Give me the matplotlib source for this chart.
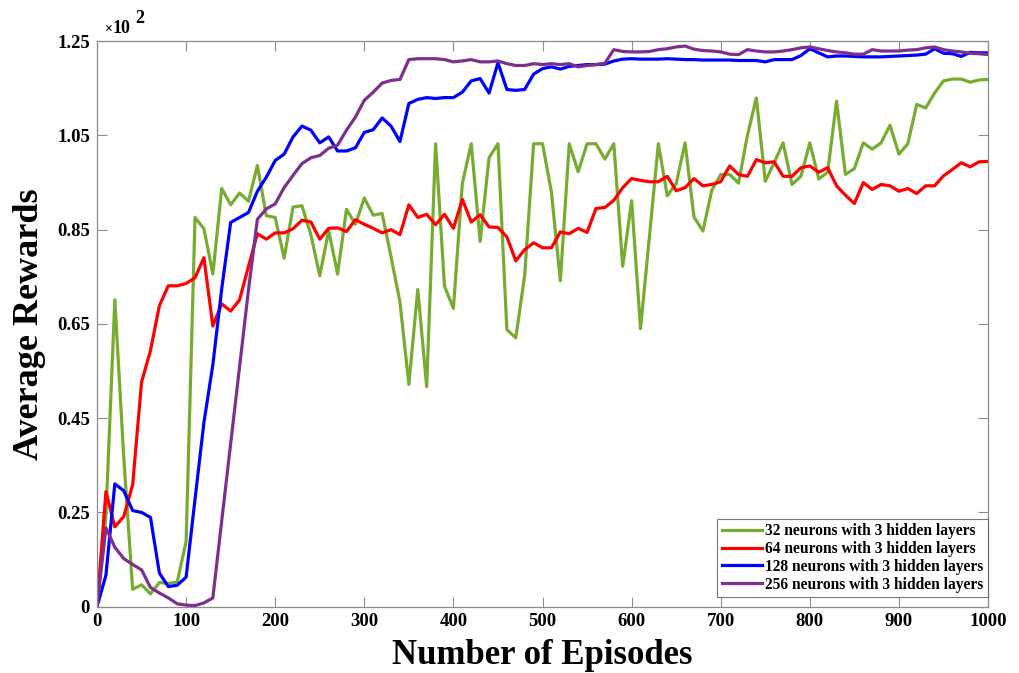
import numpy as np
import matplotlib
matplotlib.use("Agg")
import matplotlib.pyplot as plt

episodes = list(range(0, 1001, 10))

# values in units of 10^2 (axis runs 0 .. 1.25)
reward_32 = [
    0.0, 0.20, 0.678, 0.33, 0.038, 0.048, 0.028, 0.053, 0.051, 0.054,
    0.144, 0.860, 0.835, 0.735, 0.924, 0.888, 0.914, 0.896, 0.975, 0.864,
    0.860, 0.770, 0.883, 0.886, 0.822, 0.731, 0.831, 0.735, 0.878, 0.845,
    0.903, 0.865, 0.869, 0.773, 0.673, 0.491, 0.701, 0.486, 1.023, 0.708,
    0.659, 0.935, 1.023, 0.807, 0.992, 1.023, 0.612, 0.594, 0.732, 1.023,
    1.023, 0.916, 0.720, 1.023, 0.961, 1.023, 1.023, 0.989, 1.023, 0.752,
    0.897, 0.614, 0.818, 1.023, 0.908, 0.935, 1.025, 0.861, 0.830, 0.920,
    0.955, 0.955, 0.936, 1.042, 1.124, 0.940, 0.981, 1.025, 0.933, 0.951,
    1.025, 0.945, 0.960, 1.117, 0.955, 0.968, 1.025, 1.011, 1.025, 1.064,
    1.000, 1.023, 1.110, 1.102, 1.135, 1.162, 1.166, 1.166, 1.159, 1.164,
    1.165,
]

reward_64 = [
    0.0, 0.254, 0.176, 0.199, 0.269, 0.496, 0.566, 0.665, 0.709, 0.709,
    0.714, 0.727, 0.771, 0.620, 0.669, 0.653, 0.678, 0.752, 0.824, 0.812,
    0.826, 0.826, 0.835, 0.854, 0.850, 0.812, 0.836, 0.837, 0.829, 0.855,
    0.845, 0.836, 0.826, 0.833, 0.822, 0.888, 0.860, 0.867, 0.844, 0.867,
    0.836, 0.900, 0.850, 0.866, 0.839, 0.838, 0.817, 0.764, 0.789, 0.804,
    0.793, 0.793, 0.828, 0.824, 0.836, 0.827, 0.880, 0.882, 0.898, 0.926,
    0.946, 0.942, 0.939, 0.939, 0.951, 0.919, 0.926, 0.946, 0.930, 0.933,
    0.939, 0.974, 0.955, 0.951, 0.988, 0.981, 0.983, 0.951, 0.951, 0.970,
    0.974, 0.960, 0.970, 0.930, 0.909, 0.891, 0.937, 0.922, 0.933, 0.930,
    0.918, 0.924, 0.913, 0.930, 0.930, 0.952, 0.966, 0.981, 0.972, 0.983,
    0.984,
]

reward_128 = [
    0.0, 0.069, 0.271, 0.256, 0.212, 0.208, 0.197, 0.074, 0.044, 0.047,
    0.065, 0.237, 0.407, 0.534, 0.703, 0.849, 0.860, 0.871, 0.918, 0.949,
    0.986, 1.000, 1.038, 1.062, 1.053, 1.025, 1.038, 1.007, 1.007, 1.014,
    1.048, 1.054, 1.080, 1.062, 1.028, 1.112, 1.121, 1.125, 1.123, 1.125,
    1.125, 1.137, 1.162, 1.167, 1.135, 1.202, 1.143, 1.141, 1.143, 1.177,
    1.189, 1.193, 1.188, 1.194, 1.196, 1.198, 1.198, 1.199, 1.206, 1.210,
    1.211, 1.210, 1.210, 1.210, 1.211, 1.210, 1.209, 1.209, 1.208, 1.208,
    1.208, 1.208, 1.207, 1.207, 1.207, 1.204, 1.209, 1.209, 1.209, 1.218,
    1.233, 1.224, 1.215, 1.217, 1.217, 1.216, 1.215, 1.215, 1.215, 1.216,
    1.217, 1.218, 1.219, 1.221, 1.233, 1.223, 1.222, 1.216, 1.225, 1.224,
    1.224,
]

reward_256 = [
    0.0, 0.174, 0.131, 0.106, 0.093, 0.081, 0.042, 0.030, 0.019, 0.006,
    0.003, 0.002, 0.008, 0.019, 0.19, 0.36, 0.53, 0.70, 0.856, 0.879,
    0.890, 0.926, 0.953, 0.979, 0.992, 0.997, 1.013, 1.020, 1.053, 1.082,
    1.119, 1.137, 1.157, 1.163, 1.165, 1.209, 1.211, 1.211, 1.211, 1.209,
    1.204, 1.206, 1.209, 1.204, 1.204, 1.206, 1.200, 1.196, 1.196, 1.200,
    1.198, 1.200, 1.198, 1.200, 1.193, 1.196, 1.198, 1.201, 1.231, 1.227,
    1.226, 1.226, 1.227, 1.231, 1.233, 1.237, 1.239, 1.232, 1.229, 1.228,
    1.226, 1.221, 1.220, 1.231, 1.228, 1.226, 1.226, 1.228, 1.231, 1.235,
    1.237, 1.233, 1.229, 1.226, 1.224, 1.221, 1.221, 1.231, 1.228, 1.228,
    1.228, 1.230, 1.231, 1.235, 1.237, 1.231, 1.228, 1.226, 1.223, 1.222,
    1.220,
]

series_labels = [
    "32 neurons with 3 hidden layers",
    "64 neurons with 3 hidden layers",
    "128 neurons with 3 hidden layers",
    "256 neurons with 3 hidden layers",
]
series_colors = ["#77AC30", "#FF0000", "#0000FF", "#7E2F8E"]

ytick_labels = ["0", "0.25", "0.45", "0.65", "0.85", "1.05", "1.25"]
xtick_values = list(range(0, 1001, 100))

plt.rcParams["font.family"] = ["Liberation Serif", "DejaVu Serif"]
plt.rcParams["font.weight"] = "bold"

fig = plt.figure(figsize=(10.19, 6.73), dpi=100)
ax = fig.add_axes([0.0952, 0.0988, 0.8744, 0.8402])

all_series = [reward_32, reward_64, reward_128, reward_256]
for vals, lab, col in zip(all_series, series_labels, series_colors):
    ax.plot(episodes, vals, color=col, lw=2.3, label=lab)

ax.set_xlim(0, 1000)
ax.set_ylim(0, 1.25)
ax.set_xticks(xtick_values)
ax.set_xticklabels([str(v) for v in xtick_values], fontsize=13.5, fontweight="bold")
ax.set_yticks(np.linspace(0, 1.25, len(ytick_labels)))
ax.set_yticklabels(ytick_labels, fontsize=13.5, fontweight="bold")
ax.tick_params(direction="in", length=7, width=0.8, color="#8c8c8c",
               top=True, right=True, pad=5)
for sp in ax.spines.values():
    sp.set_color("#8c8c8c")
    sp.set_linewidth(0.9)

ax.set_xlabel("Number of Episodes", fontsize=25, fontweight="bold", labelpad=6)
ax.set_ylabel("Average Rewards", fontsize=26, fontweight="bold", labelpad=8)

# exponent label in the top left corner
fig.text(0.103, 0.951, "\u00d7", fontsize=10, fontweight="bold", ha="left", va="baseline")
fig.text(0.1105, 0.951, "10", fontsize=13, fontweight="bold", ha="left", va="baseline")
fig.text(0.1325, 0.966, "2", fontsize=13, fontweight="bold", ha="left", va="baseline")

leg = ax.legend(loc="lower right", bbox_to_anchor=(1.0, 0.016), fontsize=11.2,
                handlelength=2.6, handletextpad=0.2, borderpad=0.3,
                labelspacing=0.12, frameon=True, fancybox=False,
                borderaxespad=0.0)
leg.get_frame().set_edgecolor("#555555")
leg.get_frame().set_linewidth(0.8)
for t in leg.get_texts():
    t.set_fontweight("bold")

fig.savefig("out.png", dpi=100, facecolor="white")
